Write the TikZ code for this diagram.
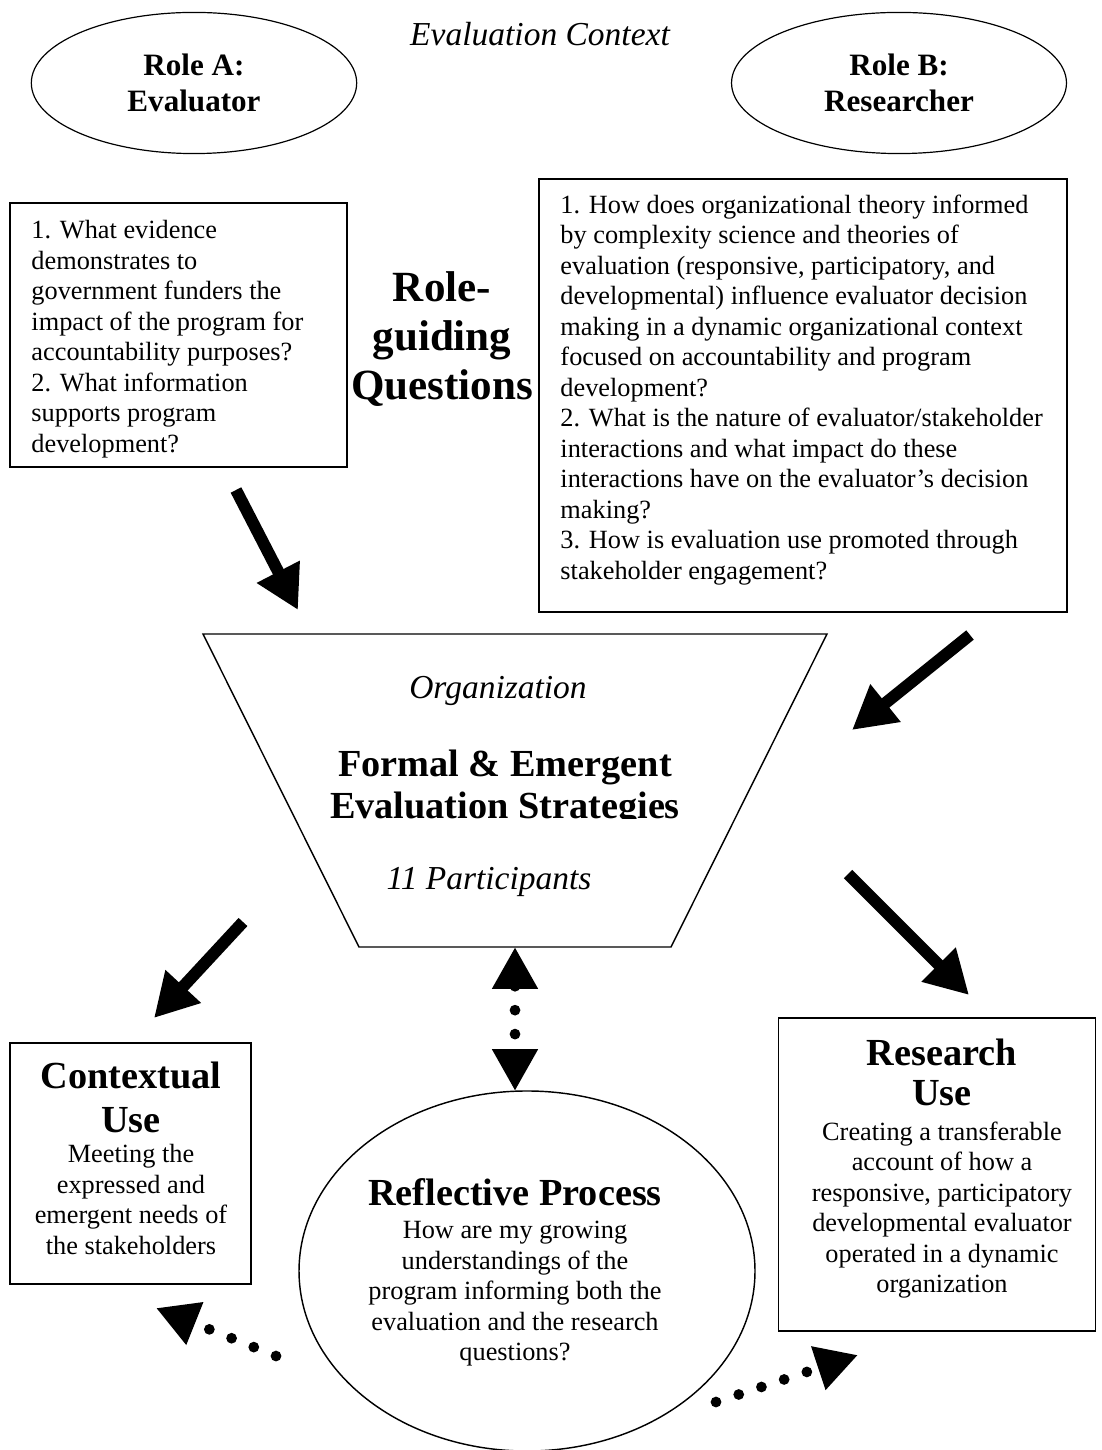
\documentclass[tikz,border=0pt]{standalone}
\usepackage{fontspec}
\setmainfont{Liberation Serif}
\usetikzlibrary{shapes,arrows.meta}

\newcommand{\bodyfont}{\fontsize{11}{12.75}\selectfont}
\newcommand{\headfont}{\fontsize{16}{18}\selectfont\bfseries}
\newcommand{\slantfont}{\fontsize{14}{16}\selectfont\itshape}

\tikzset{
  rolebubble/.style={ellipse,draw,line width=0.5pt,align=center,inner sep=0pt,
    font=\fontsize{13}{15}\selectfont\bfseries},
  qbox/.style={rectangle,draw,line width=0.6pt,inner sep=0pt},
  qtext/.style={align=left,inner sep=0pt,font=\bodyfont},
  usetext/.style={align=center,inner sep=0pt,font=\bodyfont},
  usehead/.style={align=center,inner sep=0pt,font=\headfont},
  bigarrow/.style={line width=5pt,-{Triangle[length=18pt,width=19pt]}},
  dotarrow/.style={line width=4.5pt,line cap=round,dash pattern=on 0pt off 10pt},
  dottip/.style={Triangle[length=17.5pt,width=18pt]}
}

\begin{document}
\begin{tikzpicture}[x=0.418pt,y=-0.418pt]
\path[use as bounding box,fill=white] (0,0) rectangle (1101,1450);

% roles and context
\node[rolebubble,minimum width=136pt,minimum height=59pt] (roleA) at (194,83) {Role A:\\Evaluator};
\node[font=\slantfont,inner sep=0pt,anchor=base] (context) at (540,46) {Evaluation Context};
\node[rolebubble,minimum width=140pt,minimum height=59pt] (roleB) at (899,83) {Role B:\\Researcher};

% role-guiding questions
\node[qbox,minimum width=140.9pt,minimum height=110.4pt] (evalbox) at (178.5,335) {};
\node[qtext,anchor=north west] (evaltext) at (31,220) {1. What evidence\\
demonstrates to\\
government funders the\\
impact of the program for\\
accountability purposes?\\
2. What information\\
supports program\\
development?};
\node[align=center,inner sep=0pt,font=\fontsize{18}{20.5}\selectfont\bfseries,anchor=north] (guide) at (442,271) {Role-\\guiding\\Questions};
\node[qbox,minimum width=220.7pt,minimum height=181pt] (resbox) at (803,395.5) {};
\node[qtext,anchor=north west] (restext) at (560,194) {1. How does organizational theory informed\\
by complexity science and theories of\\
evaluation (responsive, participatory, and\\
developmental) influence evaluator decision\\
making in a dynamic organizational context\\
focused on accountability and program\\
development?\\
2. What is the nature of evaluator/stakeholder\\
interactions and what impact do these\\
interactions have on the evaluator’s decision\\
making?\\
3. How is evaluation use promoted through\\
stakeholder engagement?};

% organization
\coordinate (orgTL) at (203,634);
\coordinate (orgTR) at (827,634);
\coordinate (orgBR) at (671,947);
\coordinate (orgBL) at (359,947);
\draw[line width=0.6pt] (orgTL) -- (orgTR) -- (orgBR) -- (orgBL) -- cycle;
\node[font=\slantfont,inner sep=0pt,anchor=base] (org) at (498,698) {Organization};
\begin{scope}
\clip (203,634) rectangle (827,818);
\node[align=center,inner sep=0pt,font=\fontsize{16}{17.6}\selectfont\bfseries,anchor=north] (strategy) at (505,749) {Formal \& Emergent\\Evaluation Strategies};
\end{scope}
\node[font=\slantfont,inner sep=0pt,anchor=base] (people) at (489,889) {11 Participants};

% thick arrows
\coordinate (evalout) at (236,490);
\coordinate (orgin1) at (298,610);
\coordinate (resout) at (970,635);
\coordinate (orgin2) at (852,730);
\coordinate (orgout1) at (243,922);
\coordinate (ctxin) at (154,1018);
\coordinate (orgout2) at (848,874);
\coordinate (resin) at (969,995);
\draw[bigarrow] (evalout) -- (orgin1);
\draw[bigarrow] (resout) -- (orgin2);
\draw[bigarrow] (orgout1) -- (ctxin);
\draw[bigarrow] (orgout2) -- (resin);

% contextual use
\node[qbox,minimum width=100.7pt,minimum height=100.7pt] (ctxbox) at (130.5,1163.5) {};
\node[usehead,anchor=north,font=\fontsize{16}{18.4}\selectfont\bfseries] (ctxhead) at (131,1061) {Contextual\\Use};
\node[usetext,anchor=north] (ctxtext) at (131,1144) {Meeting the\\
expressed and\\
emergent needs of\\
the stakeholders};

% reflective process
\node[ellipse,draw,line width=0.6pt,minimum width=190.6pt,minimum height=150.5pt] (reflect) at (527,1271) {};
\node[usehead,anchor=base] (reflecthead) at (515,1205) {Reflective Process};
\node[usetext,anchor=north] (reflecttext) at (515,1221) {How are my growing\\
understandings of the\\
program informing both the\\
evaluation and the research\\
questions?};

% research use
\node[qbox,minimum width=132.3pt,minimum height=130.8pt] (resusebox) at (937,1174.5) {};
\node[usehead,anchor=north,font=\fontsize{16}{17.1}\selectfont\bfseries] (resusehead) at (942,1038) {Research\\Use};
\node[usetext,anchor=north] (resusetext) at (942,1121) {Creating a transferable\\
account of how a\\
responsive, participatory\\
developmental evaluator\\
operated in a dynamic\\
organization};

% reflective links
\coordinate (orgfoot) at (515,947);
\coordinate (reflecttop) at (515,1091);
\coordinate (ctxlink) at (276,1356);
\coordinate (ctxtip) at (156,1308);
\coordinate (reslink) at (716,1402);
\coordinate (restip) at (858,1355);
\draw[dotarrow,{Triangle[length=17.5pt,width=18pt]}-{Triangle[length=17.5pt,width=18pt]}] (orgfoot) -- (reflecttop);
\draw[dotarrow,-{Triangle[length=17.5pt,width=18pt]}] (ctxlink) -- (ctxtip);
\draw[dotarrow,-{Triangle[length=17.5pt,width=18pt]}] (reslink) -- (restip);
\end{tikzpicture}
\end{document}
